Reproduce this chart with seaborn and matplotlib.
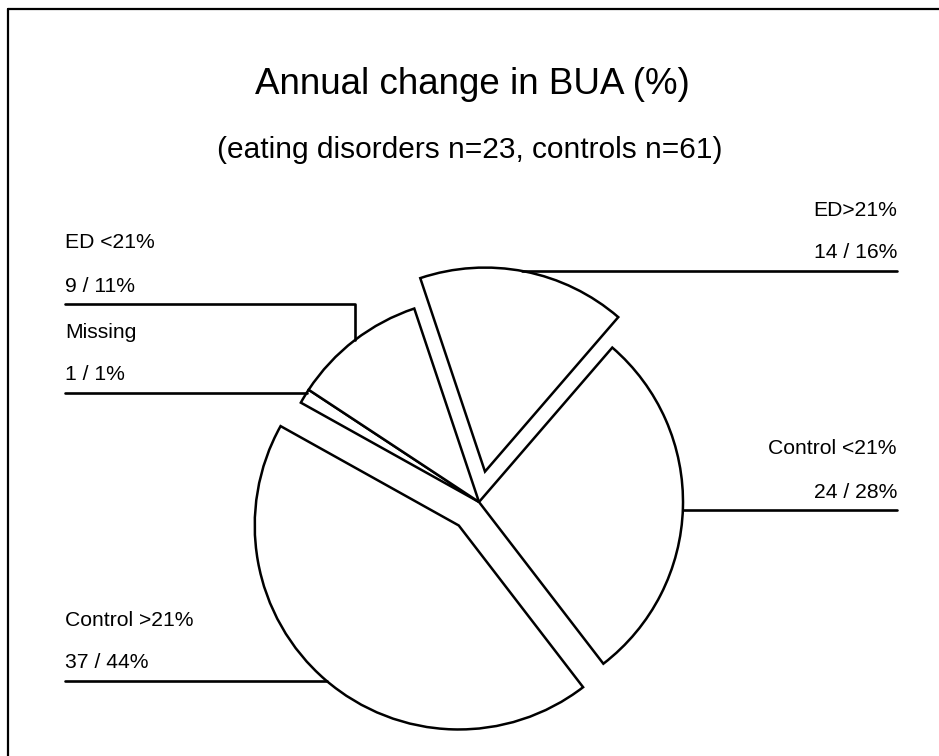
import matplotlib
matplotlib.use("Agg")
import matplotlib.pyplot as plt
import numpy as np
import seaborn as sns

# Annual change in BUA, grouped by cohort and size of change
categories = ["ED>21%", "Control <21%", "Control >21%", "Missing", "ED <21%"]
counts = [14, 24, 37, 1, 9]
percents = [16, 28, 44, 1, 11]
exploded = [True, False, True, False, False]

title = "Annual change in BUA (%)"
subtitle = "(eating disorders n=23, controls n=61)"

sns.set_theme(style="white")
plt.rcParams["font.family"] = ["Liberation Sans", "DejaVu Sans"]
plt.rcParams["text.color"] = "black"

W, H = 939, 756
fig = plt.figure(figsize=(W / 100, H / 100), dpi=100)
fig.patch.set_facecolor("white")
ax = fig.add_axes([0, 0, 1, 1])

# work in pixel-like units, y pointing up
R = 204
CENTER = (479, H - 502)
OFFSET = 31  # pull-out distance of the separated wedges
wedges, _ = ax.pie(
    counts,
    explode=[OFFSET if e else 0.0 for e in exploded],
    startangle=108.5,
    counterclock=False,
    radius=R,
    center=CENTER,
    colors=["white"] * len(counts),
    wedgeprops=dict(edgecolor="black", linewidth=1.8, joinstyle="miter"),
)
ax.set_xlim(0, W)
ax.set_ylim(0, H)
ax.set_aspect("equal")
ax.axis("off")

# frame (top and left edges)
ax.plot([8, W], [H - 9, H - 9], color="black", lw=1.6, clip_on=False)
ax.plot([8, 8], [H - 9, 0], color="black", lw=1.6, clip_on=False)

ax.text(472, H - 85, title, ha="center", va="center", fontsize=26.5, color="black")
ax.text(470, H - 150, subtitle, ha="center", va="center", fontsize=21.5, color="black")

LEFT_X, RIGHT_X = 65, 897
LABEL_FS = 15.2
# side, y of the leader line, optional elbow x
layout = {
    "ED>21%": ("right", 271, None),
    "Control <21%": ("right", 510, None),
    "Control >21%": ("left", 681, None),
    "Missing": ("left", 393, None),
    "ED <21%": ("left", 304, 355),
}

for name, n, pct, w in zip(categories, counts, percents, wedges):
    side, line_img_y, elbow = layout[name]
    cx, cy = w.center
    r = w.r
    ly = H - line_img_y
    if side == "right":
        tx, ha = RIGHT_X, "right"
        x_arc = cx + np.sqrt(max(r ** 2 - (ly - cy) ** 2, 0))
        ax.plot([x_arc, RIGHT_X], [ly, ly], color="black", lw=1.9)
    else:
        tx, ha = LEFT_X, "left"
        if elbow is not None:
            y_arc = cy + np.sqrt(max(r ** 2 - (elbow - cx) ** 2, 0))
            ax.plot([LEFT_X, elbow, elbow], [ly, ly, y_arc], color="black", lw=1.9)
        else:
            x_arc = cx - np.sqrt(max(r ** 2 - (ly - cy) ** 2, 0))
            ax.plot([LEFT_X, x_arc], [ly, ly], color="black", lw=1.9)
    ax.text(tx, ly + 61, name, ha=ha, va="center", fontsize=LABEL_FS, color="black")
    ax.text(tx, ly + 18, f"{n} / {pct}%", ha=ha, va="center", fontsize=LABEL_FS, color="black")

fig.savefig("out.png", dpi=100, facecolor="white")
